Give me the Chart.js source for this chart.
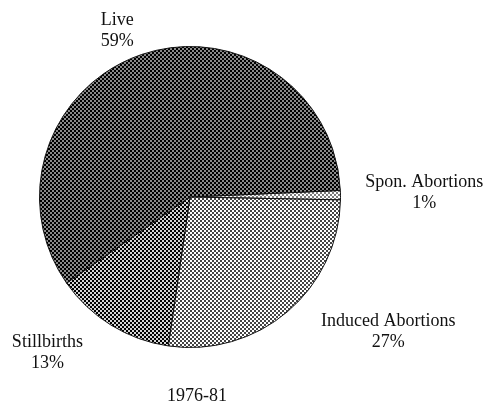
<!DOCTYPE html>
<html>
<head>
<meta charset="utf-8">
<script src="https://cdn.jsdelivr.net/npm/chart.js@4/dist/chart.umd.min.js"></script>
<style>
  html, body { margin: 0; padding: 0; background: #fff; }
  #wrap { width: 490px; height: 408px; }
</style>
</head>
<body>
<div id="wrap"><canvas id="c" width="490" height="408"></canvas></div>
<script>
// ---- data ----
const categories = ["Spon. Abortions", "Induced Abortions", "Stillbirths", "Live"];
const values = [1, 27, 13, 59];
const valueLabels = ["1%", "27%", "13%", "59%"];
const chartTitle = "1976-81";

// ---- styling / placement (not data) ----
const FONT = '"Liberation Serif", "DejaVu Serif", serif';
// label direction (canvas degrees) and distance as a fraction of the radius
const labelAngle = [-1.1, 34.2, 132.6, 246.4];
const labelDist = [1.556, 1.593, 1.40, 1.207];

function makePattern(dark, light) {
  const t = document.createElement('canvas');
  t.width = 4; t.height = 4;
  const g = t.getContext('2d');
  g.fillStyle = light; g.fillRect(0, 0, 4, 4);
  g.fillStyle = dark;
  g.fillRect(0, 0, 2, 2);
  g.fillRect(2, 2, 2, 2);
  return document.getElementById('c').getContext('2d').createPattern(t, 'repeat');
}

const fills = [
  makePattern('#7a7a7a', '#ffffff'),  // Spon
  makePattern('#444444', '#ffffff'),  // Induced
  makePattern('#000000', '#d4d4d4'),  // Stillbirths
  makePattern('#000000', '#8a8a8a')   // Live
];

const labelPlugin = {
  id: 'pieLabels',
  afterDraw(chart) {
    const ctx = chart.ctx;
    const meta = chart.getDatasetMeta(0);
    ctx.save();
    ctx.fillStyle = '#111';
    ctx.font = '18px ' + FONT;
    ctx.textAlign = 'center';
    ctx.textBaseline = 'middle';
    meta.data.forEach((arc, i) => {
      const a = labelAngle[i] * Math.PI / 180;
      const d = labelDist[i] * arc.outerRadius;
      const x = arc.x + Math.cos(a) * d;
      const y = arc.y + Math.sin(a) * d;
      ctx.fillText(categories[i], x, y - 10);
      ctx.fillText(valueLabels[i], x, y + 11);
    });
    const arc0 = meta.data[0];
    ctx.fillText(chartTitle, arc0.x + 7, arc0.y + arc0.outerRadius + 49);
    ctx.restore();
  }
};

new Chart(document.getElementById('c'), {
  type: 'pie',
  data: {
    labels: categories,
    datasets: [{
      data: values,
      backgroundColor: fills,
      borderColor: '#111',
      borderWidth: 1
    }]
  },
  options: {
    responsive: false,
    animation: false,
    rotation: 87.5,
    layout: { padding: { left: 39, top: 46, right: 149, bottom: 60 } },
    plugins: {
      legend: { display: false },
      tooltip: { enabled: false },
      title: { display: false }
    }
  },
  plugins: [labelPlugin]
});
</script>
</body>
</html>
